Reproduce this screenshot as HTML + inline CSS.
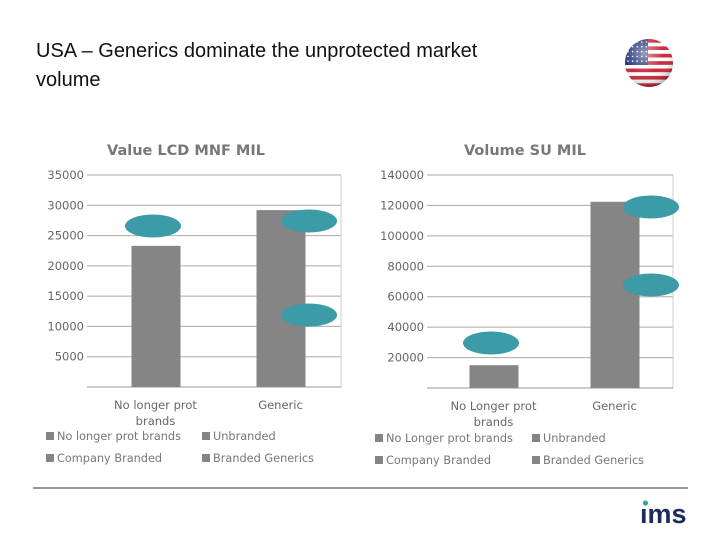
<!DOCTYPE html>
<html><head><meta charset="utf-8"><style>
body{margin:0;width:720px;height:540px;background:#fff;overflow:hidden;font-family:"Liberation Sans",sans-serif}
</style></head><body>
<svg id="s" width="720" height="540" xmlns="http://www.w3.org/2000/svg">
<defs>
<clipPath id="fc"><circle cx="649" cy="63" r="24"/></clipPath>
<radialGradient id="gl" cx="0.4" cy="0.3" r="0.7"><stop offset="0" stop-color="#fff" stop-opacity="0.5"/><stop offset="0.6" stop-color="#fff" stop-opacity="0"/><stop offset="1" stop-color="#000" stop-opacity="0.25"/></radialGradient>
</defs>
<text x="36" y="57" font-size="20" fill="#111">USA – Generics dominate the unprotected market</text>
<text x="36" y="86" font-size="20" fill="#111">volume</text>
<g clip-path="url(#fc)" id="flag"></g>
<circle cx="649" cy="63" r="24" fill="url(#gl)"/>
<line x1="33" y1="488" x2="688" y2="488" stroke="#777" stroke-width="1.5"/>
<text x="640" y="523" font-size="27" font-weight="bold" fill="#1e2a5a">ıms</text>
<circle cx="645.5" cy="503" r="2.6" fill="#3a9fa8"/>
<g id="c1"></g>
<g id="c2"></g>
</svg>
<script>
const valueCategories=["No longer prot|brands","Generic"];
const valueValues=[23300,29200];
const valueTicks=[5000,10000,15000,20000,25000,30000,35000];
const volumeCategories=["No Longer prot|brands","Generic"];
const volumeValues=[15000,122400];
const volumeTicks=[20000,40000,60000,80000,100000,120000,140000];
const valueLegend=["No longer prot brands","Unbranded","Company Branded","Branded Generics"];
const volumeLegend=["No Longer prot brands","Unbranded","Company Branded","Branded Generics"];
const NS="http://www.w3.org/2000/svg";
const F='"DejaVu Sans",sans-serif';
function mk(p,t,a){const e=document.createElementNS(NS,t);for(const k in a)e.setAttribute(k,a[k]);p.appendChild(e);return e;}
const fl=document.getElementById('flag');
for(let i=0;i<13;i++){mk(fl,'rect',{x:624,y:39+i*48/13,width:50,height:48/13+0.3,fill:i%2?'#fff':'#c8283a'});}
mk(fl,'rect',{x:624,y:39,width:24,height:26,fill:'#2c3a78'});
for(let i=0;i<5;i++)for(let j=0;j<5;j++)mk(fl,'circle',{cx:628+j*4.6,cy:42+i*4.8,r:0.8,fill:'#fff'});
function chart(g,o){
  const y=v=>o.y0-(v/o.max)*(o.y0-o.yTop);
  const x=i=>o.xL+(o.xR-o.xL)*(i+0.5)/o.cats.length;
  const t=mk(g,'text',{x:(o.xL+o.xR)/2+o.tdx,y:155,'font-size':14.5,'font-weight':'bold',fill:'#777','text-anchor':'middle','font-family':F});t.textContent=o.title;
  
  
  o.ticks.forEach(v=>{
    const l=mk(g,'line',{x1:o.xL-4,x2:o.xR,y1:y(v),y2:y(v),stroke:'#aaa','stroke-width':1});
    
    
    const tx=mk(g,'text',{x:o.xL-7,y:y(v)+4,'font-size':11.5,fill:'#666','text-anchor':'end','font-family':F});tx.textContent=v;
    
    
  });
  mk(g,'line',{x1:o.xR,x2:o.xR,y1:o.yTop,y2:o.y0,stroke:'#ccc'});
  const ax=mk(g,'line',{x1:o.xL-4,x2:o.xR,y1:o.y0,y2:o.y0,stroke:'#999'});
  
  
  o.cats.forEach((c,i)=>{
    const b=mk(g,'rect',{x:x(i)-24+o.bdx,y:y(o.vals[i]),width:49,height:o.y0-y(o.vals[i]),fill:'#858585'});
    
    
    c.split('|').forEach((s,k)=>{const tt=mk(g,'text',{x:x(i)+o.bdx,y:o.y0+22+k*16,'font-size':11.5,fill:'#666','text-anchor':'middle','font-family':F});tt.textContent=s;
      
      });
  });
  o.leg.forEach((s,i)=>{
    const lx=o.lx+(i%2)*o.lw, ly=o.ly+Math.floor(i/2)*22;
    mk(g,'rect',{x:lx,y:ly-8,width:8,height:8,fill:'#858585'});
    const tt=mk(g,'text',{x:lx+11,y:ly,'font-size':11.3,fill:'#777','font-family':F});tt.textContent=s;
    
    
  });
  o.ell.forEach(e=>{const el=mk(g,'ellipse',{cx:e[0],cy:e[1],rx:28,ry:11.5,fill:'#3b9ba6'});
    
    });
}
chart(document.getElementById('c1'),{cats:valueCategories,vals:valueValues,ticks:valueTicks,max:35000,xL:91,xR:341,yTop:175,y0:387,title:"Value LCD MNF MIL",tdx:-30,bdx:2,leg:valueLegend,lx:46,ly:440,lw:156,ell:[[153,226],[309,221],[309,315]]});
chart(document.getElementById('c2'),{cats:volumeCategories,vals:volumeValues,ticks:volumeTicks,max:140000,xL:431,xR:673,yTop:175,y0:388,title:"Volume SU MIL",tdx:-27,bdx:2,leg:volumeLegend,lx:375,ly:442,lw:157,ell:[[491,343],[651,207],[651,285]]});
</script>
</body></html>
